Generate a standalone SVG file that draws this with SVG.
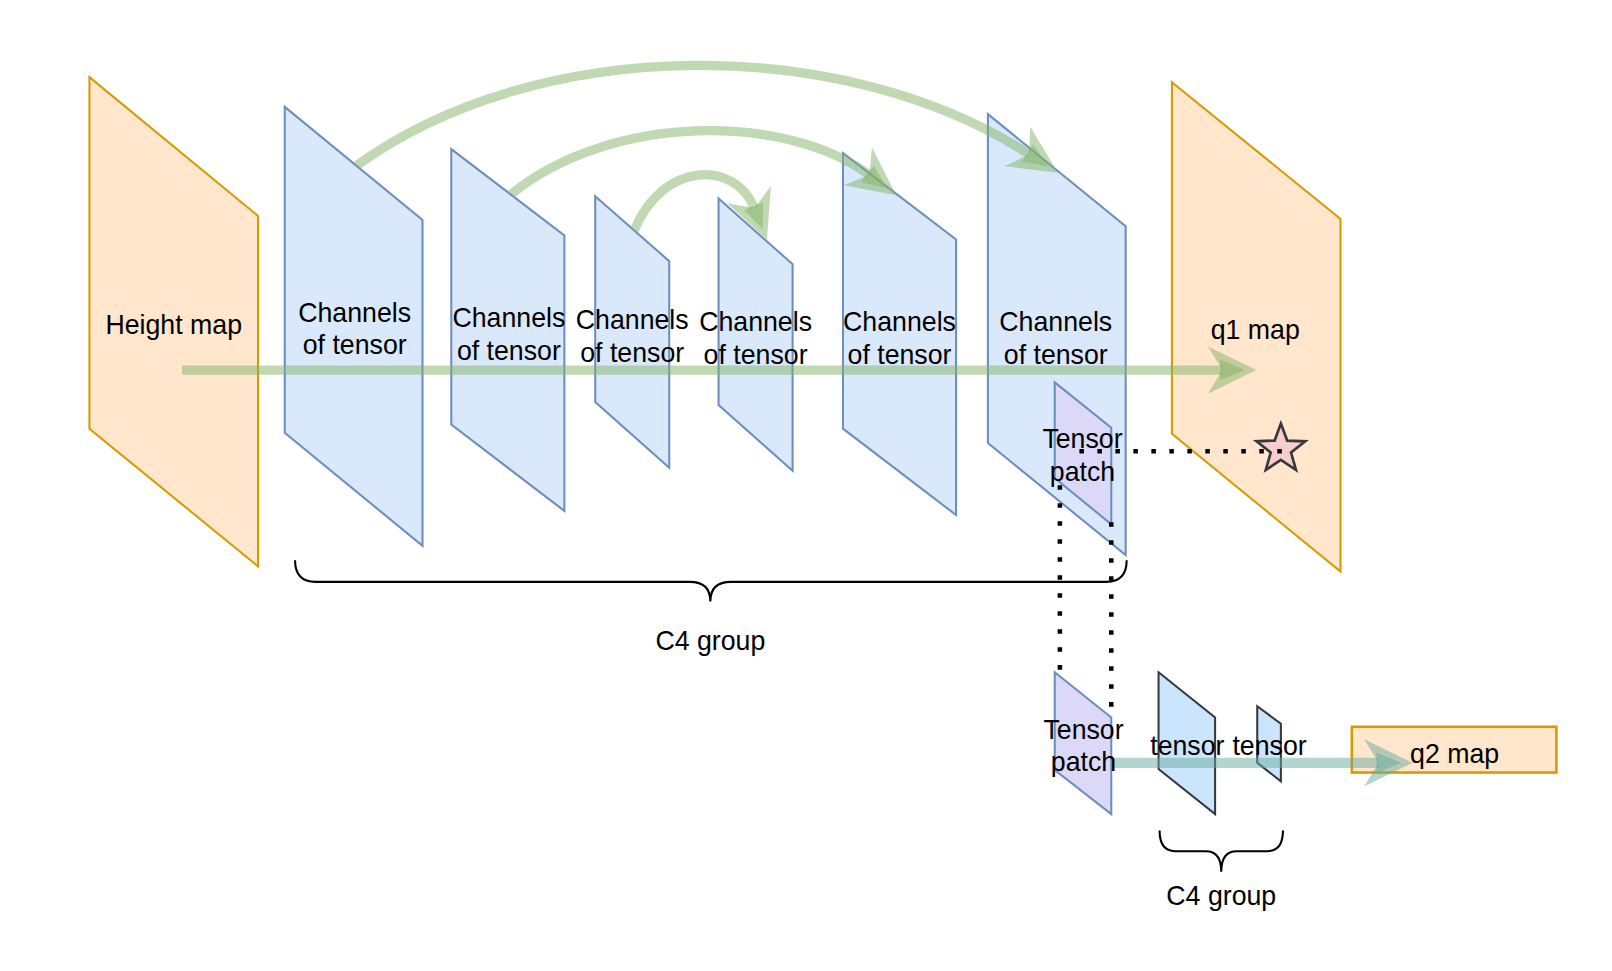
<svg xmlns="http://www.w3.org/2000/svg" width="1612" height="971" viewBox="0 0 1612 971">
<style>
 text{font-family:"Liberation Sans",Arial,sans-serif;font-size:26px;fill:#000;text-anchor:middle;dominant-baseline:central}
 .blue{fill:#dae8fc;stroke:#6c8ebf;stroke-width:2}
 .orange{fill:#ffe6cc;stroke:#d79b00;stroke-width:2}
 .patch{fill:#dbd9f7;stroke:#6c8ebf;stroke-width:2}
 .dark{fill:#cce5ff;stroke:#36393d;stroke-width:2}
 .star{fill:#f8cecc;stroke:#36393d;stroke-width:2.5}
 .green{fill:none;stroke:#82b366;stroke-opacity:0.5;stroke-width:9}
 .teal{fill:none;stroke:#67ab9f;stroke-opacity:0.5;stroke-width:10}
 .dots{fill:none;stroke:#000;stroke-width:4.4;stroke-dasharray:4.4 13.1}
 .brace{fill:none;stroke:#000;stroke-width:2}
</style>
<defs>
 <g id="ah"><polygon points="0,0 -47,-23 -33,0 -47,23"/><polygon points="-11,0 -35,-10 -35,10"/></g>
</defs>
<rect width="1612" height="971" fill="#fff"/>
<g transform="scale(1.028)">
 <g id="height-map"><polygon class="orange" points="87,75 251,210 251,551 87,417"/><text x="169" y="316">Height map</text></g>
 <g id="channels-1"><polygon class="blue" points="277,104 411,214 411,531 277,421"/><text x="345" y="304">Channels</text><text x="345" y="336">of tensor</text></g>
 <g id="channels-2"><polygon class="blue" points="439,145 549,229 549,497 439,413"/><text x="495" y="309">Channels</text><text x="495" y="341">of tensor</text></g>
 <g id="channels-3"><polygon class="blue" points="579,191 651,254 651,455 579,391"/><text x="615" y="311">Channels</text><text x="615" y="343">of tensor</text></g>
 <g id="channels-4"><polygon class="blue" points="699,193 771,257 771,458 699,394"/><text x="735" y="313">Channels</text><text x="735" y="345">of tensor</text></g>
 <g id="channels-5"><polygon class="blue" points="820,149 930,233 930,501 820,417"/><text x="875" y="313">Channels</text><text x="875" y="345">of tensor</text></g>
 <g id="channels-6"><polygon class="blue" points="961,111 1095,220 1095,540 961,431"/><text x="1027" y="313">Channels</text><text x="1027" y="345">of tensor</text></g>
 <g id="q1-map"><polygon class="orange" points="1140,80 1304,213 1304,556 1140,422"/><text x="1221" y="321">q1 map</text></g>
 <g id="tensor-patch-1"><polygon class="patch" points="1026,372 1081,416 1081,510 1026,465"/><text x="1053" y="427">Tensor</text><text x="1053" y="459">patch</text></g>
 <g id="star"><polygon class="star" transform="translate(1246,437) scale(1.04)" points="0,-24 5.88,-8.09 22.83,-7.42 9.51,3.09 14.11,19.42 0,10 -14.11,19.42 -9.51,3.09 -22.83,-7.42 -5.88,-8.09"/></g>
 <g id="brace-1"><path class="brace" d="M287,545 Q287,566 307,566 L671,566 Q691,566 691,585 Q691,566 711,566 L1076,566 Q1096,566 1096,545"/><text x="691" y="624">C4 group</text></g>
 <g id="tensor-patch-2"><polygon class="patch" points="1026,654 1081,698 1081,792 1026,749"/></g>
 <g id="tensor-1"><polygon class="dark" points="1127,654 1182,698 1182,792 1127,748"/></g>
 <g id="tensor-2"><polygon class="dark" points="1223,687 1246,704 1246,760 1223,742"/></g>
 <g id="q2-map"><rect x="1315" y="707" width="199" height="44.5" fill="#ffe6cc" stroke="#d79b00" stroke-width="2.5"/></g>
 <g id="brace-2"><path class="brace" d="M1128,808 Q1128,828 1143,828 L1173,828 Q1188,828 1188,848 Q1188,828 1203,828 L1233,828 Q1248,828 1248,808"/><text x="1188" y="872">C4 group</text></g>

 <g id="connectors">
  <path class="green" d="M177,360 L1189,360"/>
  <use href="#ah" fill="#82b366" fill-opacity="0.5" transform="translate(1222,360)"/>
  <path class="green" d="M347,161 C524,33 821,33 1001,150"/>
  <use href="#ah" fill="#82b366" fill-opacity="0.5" transform="translate(1029,168) rotate(33)"/>
  <path class="green" d="M497,189 C594,110 765,110 845.6,170.2"/>
  <use href="#ah" fill="#82b366" fill-opacity="0.5" transform="translate(872,190) rotate(36.9)"/>
  <path class="green" d="M617,224 C645,156 715,156 733.8,202.4"/>
  <use href="#ah" fill="#82b366" fill-opacity="0.5" transform="translate(746,233) rotate(68.3)"/>
  <path class="teal" d="M1081,742 L1341,742"/>
  <use href="#ah" fill="#67ab9f" fill-opacity="0.5" transform="translate(1374,742)"/>
  <path class="dots" d="M1050,439 L1248,439"/>
  <path class="dots" d="M1031,472 L1031,655"/>
  <path class="dots" d="M1081,508 L1081,698"/>
 </g>

 <g id="labels-bottom">
  <text x="1054" y="710">Tensor</text><text x="1054" y="741">patch</text>
  <text x="1155" y="726">tensor</text><text x="1235" y="726">tensor</text>
  <text x="1415" y="733">q2 map</text>
 </g>
</g>
</svg>
